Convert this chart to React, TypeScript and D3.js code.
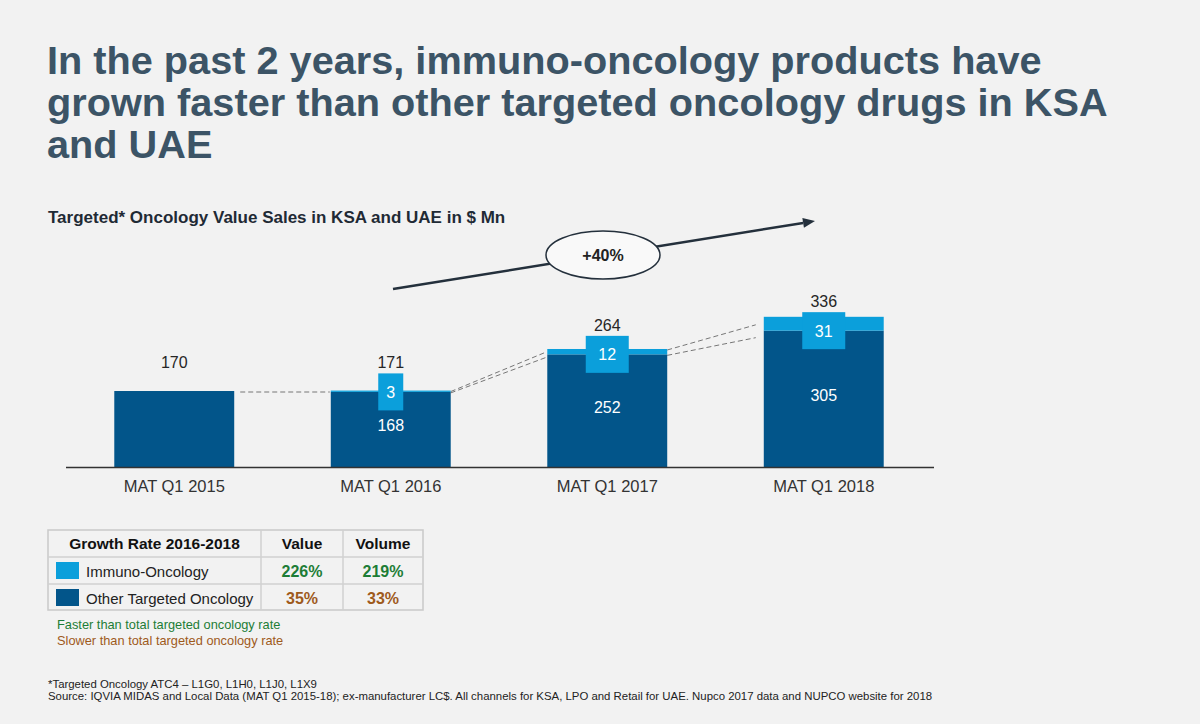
import React from "react";
import * as d3 from "d3";

const categories = ["MAT Q1 2015", "MAT Q1 2016", "MAT Q1 2017", "MAT Q1 2018"];
const otherTargeted = [170, 168, 252, 305];
const immunoOncology = [0, 3, 12, 31];
const totals = [170, 171, 264, 336];

const titleLines = [
  "In the past 2 years, immuno-oncology products have",
  "grown faster than other targeted oncology drugs in KSA",
  "and UAE",
];
const subtitle = "Targeted* Oncology Value Sales in KSA and UAE in $ Mn";
const cagrLabel = "+40%";

const tableHeader = ["Growth Rate 2016-2018", "Value", "Volume"];
const seriesNames = ["Immuno-Oncology", "Other Targeted Oncology"];
const valueGrowth = ["226%", "35%"];
const volumeGrowth = ["219%", "33%"];
const growthFast = [true, false];

const notes = ["Faster than total targeted oncology rate", "Slower than total targeted oncology rate"];
const footnotes = [
  "*Targeted Oncology ATC4 \u2013 L1G0, L1H0, L1J0, L1X9",
  "Source: IQVIA MIDAS and Local Data (MAT Q1 2015-18); ex-manufacturer LC$. All channels for KSA, LPO and Retail for UAE. Nupco 2017 data and NUPCO website for 2018",
];

const DARK = "#02558a";
const LIGHT = "#0b9fdb";
const GREEN = "#1d7d36";
const BROWN = "#9e5a1c";
const FONT = "'Liberation Sans', Arial, Helvetica, sans-serif";

export default function App() {
  const W = 1200, H = 724;
  const baseline = 467;
  const x = d3.scaleBand<string>().domain(categories).range([66, 932]).paddingInner(0.446).paddingOuter(0.223);
  const y = d3.scaleLinear().domain([0, 400]).range([baseline, baseline - 400 * 0.447]);
  const bw = x.bandwidth();

  const boxH = 37;
  const boxW = (v: number) => (v >= 10 ? 43 : 25);

  const connectors: { x1: number; y1: number; x2: number; y2: number }[] = [];
  for (let i = 0; i < categories.length - 1; i++) {
    const xr = (x(categories[i]) as number) + bw;
    const xl = x(categories[i + 1]) as number;
    const gapStart = i === 0 ? 6 : 0;
    const gapEnd = i === 2 ? 8 : 1;
    if (immunoOncology[i + 1] < 5) {
      connectors.push({ x1: xr + gapStart, y1: y(totals[i]) + 1, x2: xl - gapEnd, y2: y(totals[i]) + 1 });
    } else {
      connectors.push({ x1: xr + gapStart, y1: y(totals[i]) + 1, x2: xl - gapEnd, y2: y(totals[i + 1]) + 3 + (i === 2 ? 5 : 0) });
      connectors.push({ x1: xr + gapStart, y1: y(otherTargeted[i]) + 1, x2: xl - gapEnd, y2: y(otherTargeted[i + 1]) + 3 + (i === 2 ? 4 : 0) });
    }
  }

  const ax1 = 393, ay1 = 289, ax2 = 815, ay2 = 221;
  const ang = Math.atan2(ay2 - ay1, ax2 - ax1);
  const ah = 12, aw = 5;
  const tip = [ax2, ay2];
  const back = [ax2 - ah * Math.cos(ang), ay2 - ah * Math.sin(ang)];
  const p1 = [back[0] + aw * Math.sin(ang), back[1] - aw * Math.cos(ang)];
  const p2 = [back[0] - aw * Math.sin(ang), back[1] + aw * Math.cos(ang)];

  const tx = [48, 261, 343, 423];
  const ty = [530, 557, 584, 610];

  return (
    <svg width={W} height={H} style={{ position: "absolute", left: 0, top: 0 }} fontFamily={FONT}>
      <rect x={0} y={0} width={W} height={H} fill="#f2f2f2" />

      {titleLines.map((t, i) => (
        <text key={i} x={47} y={74 + i * 42} fontSize={39.7} fontWeight="bold" fill="#3c5466">
          {t}
        </text>
      ))}
      <text x={48} y={223} fontSize={17} fontWeight="bold" fill="#1f2a35">
        {subtitle}
      </text>

      <line x1={ax1} y1={ay1} x2={back[0]} y2={back[1]} stroke="#24303c" strokeWidth={2.5} />
      <polygon points={`${tip[0]},${tip[1]} ${p1[0]},${p1[1]} ${p2[0]},${p2[1]}`} fill="#24303c" />
      <ellipse cx={603} cy={255} rx={57} ry={24} fill="#f9f9f9" stroke="#24303c" strokeWidth={1.5} />
      <text x={603} y={261} textAnchor="middle" fontSize={16} fontWeight="bold" fill="#222">
        {cagrLabel}
      </text>

      {connectors.map((c, i) => (
        <line key={i} x1={c.x1} y1={c.y1} x2={c.x2} y2={c.y2} stroke="#777" strokeWidth={1} strokeDasharray="5,3" />
      ))}

      {categories.map((c, i) => {
        const bx = x(c) as number;
        const cx = bx + bw / 2;
        const darkTop = y(otherTargeted[i]);
        const totTop = y(totals[i]);
        const boxTop = darkTop - boxH / 2;
        const labelTop = Math.min(boxTop, totTop);
        const bwid = boxW(immunoOncology[i]);
        return (
          <g key={c}>
            <rect x={bx} y={darkTop} width={bw} height={baseline - darkTop} fill={DARK} />
            {immunoOncology[i] > 0 && (
              <>
                <rect x={bx} y={totTop} width={bw} height={darkTop - totTop} fill={LIGHT} />
                <rect x={cx - bwid / 2} y={boxTop} width={bwid} height={boxH} fill={LIGHT} />
                <text x={cx} y={darkTop + 6} textAnchor="middle" fontSize={16} fill="#fff">
                  {immunoOncology[i]}
                </text>
                <text x={cx} y={(darkTop + baseline) / 2 + 2} textAnchor="middle" fontSize={16} fill="#fff">
                  {otherTargeted[i]}
                </text>
              </>
            )}
            <text x={cx} y={labelTop - 5} textAnchor="middle" fontSize={16} fill="#262626">
              {totals[i]}
            </text>
            <text x={cx} y={492} textAnchor="middle" fontSize={16.5} fill="#333">
              {c}
            </text>
          </g>
        );
      })}
      <line x1={66} x2={934} y1={baseline + 0.5} y2={baseline + 0.5} stroke="#333" strokeWidth={1.5} />

      <g>
        <rect x={tx[0]} y={ty[0]} width={tx[3] - tx[0]} height={ty[3] - ty[0]} fill="#f2f2f2" stroke="#c9c9c9" strokeWidth={1.5} />
        {ty.slice(1, 3).map((yy, i) => (
          <line key={"r" + i} x1={tx[0]} x2={tx[3]} y1={yy} y2={yy} stroke="#d0d0d0" strokeWidth={1.5} />
        ))}
        {tx.slice(1, 3).map((xx, i) => (
          <line key={"c" + i} x1={xx} x2={xx} y1={ty[0]} y2={ty[3]} stroke="#d0d0d0" strokeWidth={1.5} />
        ))}
        {tableHeader.map((h, i) => (
          <text key={h} x={(tx[i] + tx[i + 1]) / 2} y={549} textAnchor="middle" fontSize={15.5} fontWeight="bold" fill="#111">
            {h}
          </text>
        ))}
        {seriesNames.map((s, i) => {
          const rowTop = ty[i + 1];
          const base = rowTop + 20;
          const col = growthFast[i] ? GREEN : BROWN;
          return (
            <g key={s}>
              <rect x={56} y={rowTop + 5} width={23} height={17} fill={i === 0 ? LIGHT : DARK} />
              <text x={86} y={base} fontSize={15} fill="#222">
                {s}
              </text>
              <text x={(tx[1] + tx[2]) / 2} y={base} textAnchor="middle" fontSize={16} fontWeight="bold" fill={col}>
                {valueGrowth[i]}
              </text>
              <text x={(tx[2] + tx[3]) / 2} y={base} textAnchor="middle" fontSize={16} fontWeight="bold" fill={col}>
                {volumeGrowth[i]}
              </text>
            </g>
          );
        })}
      </g>

      {notes.map((n, i) => (
        <text key={n} x={57} y={629 + i * 16} fontSize={12.8} fill={i === 0 ? GREEN : BROWN}>
          {n}
        </text>
      ))}

      {footnotes.map((f, i) => (
        <text key={i} x={48} y={688 + i * 12} fontSize={11.4} fill="#222">
          {f}
        </text>
      ))}
    </svg>
  );
}
